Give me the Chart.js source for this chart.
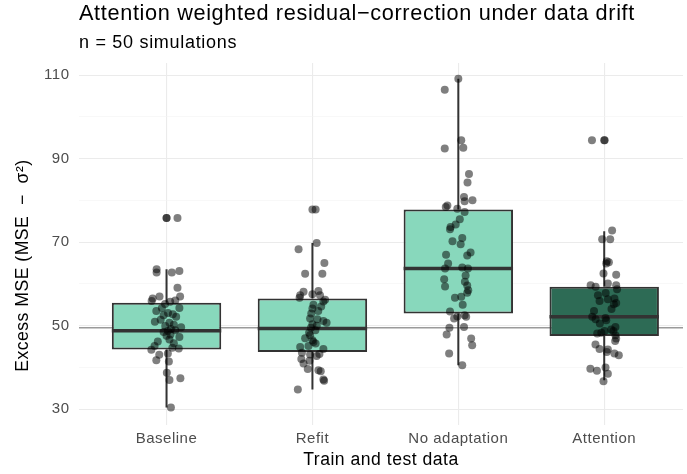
<!DOCTYPE html>
<html>
<head>
<meta charset="utf-8">
<script src="https://cdn.jsdelivr.net/npm/chart.js@4.4.1/dist/chart.umd.min.js"></script>
<style>
  body { margin: 0; background: #fff; overflow: hidden; }
  #wrap { position: relative; width: 687px; height: 474px; }
  #boxChart { position: absolute; left: 0; top: 0; }
  .heading { position: absolute; left: 79px; font-family: "Liberation Sans", Arial, sans-serif; color: #000; white-space: nowrap; line-height: 1; }
</style>
</head>
<body>
<div id="wrap">
  <canvas id="boxChart" width="687" height="474"></canvas>
  <div class="heading" style="top:1.5px;font-size:21.7px;letter-spacing:0.65px">Attention weighted residual−correction under data drift</div>
  <div class="heading" style="top:33px;font-size:18px;letter-spacing:0.7px">n = 50 simulations</div>
</div>
<script>
const categories = ['Baseline', 'Refit', 'No adaptation', 'Attention'];

// box statistics per group
const lowerWhisker = [30.4, 34.7, 40.5, 36.9];
const lowerQuartile = [44.3, 43.7, 52.9, 47.5];
const medians = [48.8, 49.3, 63.7, 52.1];
const upperQuartile = [55.5, 56.5, 77.8, 59.3];
const upperWhisker = [63.5, 69.8, 109.1, 72.6];

const referenceMse = 49.5;
const yTicks = [30, 40, 50, 60, 70, 80, 90, 100, 110];

// excess MSE of each simulation, with its horizontal jitter (category units)
const baselineMse = [75.8, 75.8, 75.8, 63.5, 62.7, 62.7, 63.1, 59.1, 57.0, 57.0, 56.5, 55.9, 55.7, 54.2, 53.5, 54.2, 52.7, 52.1, 50.7, 49.9,
  48.7, 47.9, 47.3, 46.7, 45.1, 44.2, 44.5, 43.0, 43.3, 41.7, 41.4, 38.7, 37.0, 37.4, 30.4,
  48.5, 49.2, 50.2, 51.4, 53.0, 55.2, 47.6, 46.2, 48.9, 50.9, 44.7, 52.5, 49.6, 45.8, 56.0];
const baselineJitter = [0.0, 0.0, 0.075, -0.068, -0.068, 0.036, 0.088, 0.075, 0.093, -0.048, -0.095, -0.102, 0.025, -0.032, -0.07, 0.088, 0.043, 0.066, 0.02, -0.009,
  0.009, 0.027, 0.088, 0.02, -0.082, -0.104, 0.084, -0.05, 0.009, -0.07, 0.016, 0.002, 0.02, 0.095, 0.03,
  -0.02, 0.03, 0.05, -0.04, 0.01, -0.01, 0.0, -0.06, 0.06, -0.08, 0.04, -0.02, 0.1, 0.05, 0.06];

const refitMse = [77.8, 77.8, 69.8, 68.3, 65.0, 62.4, 62.4, 58.1, 57.3, 56.7, 57.5, 58.3, 57.3, 56.2, 55.8, 55.0, 54.1, 52.9, 51.7, 51.5,
  50.7, 51.1, 50.3, 48.3, 47.7, 46.1, 45.7, 44.9, 45.1, 44.4, 43.5, 43.1, 42.7, 43.2, 42.0, 40.9, 41.6, 39.6, 39.3, 39.1,
  37.1, 36.8, 34.7, 49.5, 48.9, 53.5, 47.0, 54.6, 50.0, 46.5];
const refitJitter = [0.0, 0.022, 0.029, -0.095, 0.082, -0.05, 0.068, -0.061, -0.084, -0.088, 0.0, 0.041, 0.052, 0.087, 0.075, 0.007, 0.0, -0.008, -0.016, 0.034,
  0.097, 0.075, 0.0, -0.023, -0.016, 0.007, 0.022, -0.084, -0.027, 0.075, -0.072, -0.016, 0.029, 0.048, -0.076, -0.061, -0.02, -0.032, 0.041, 0.057,
  0.075, 0.08, -0.1, -0.01, 0.02, 0.04, -0.05, 0.06, 0.03, 0.0];

const noAdaptationMse = [109.1, 106.5, 94.4, 92.6, 92.4, 86.3, 84.3, 80.8, 80.0, 79.8, 78.8, 78.4, 78.0, 77.2, 74.2, 73.6, 73.1, 71.0, 69.5, 67.5,
  66.8, 67.0, 64.9, 63.7, 63.9, 63.7, 61.1, 59.4, 60.5, 59.6, 58.5, 57.9, 56.7, 56.9, 53.4, 52.2, 52.5, 52.1, 51.7, 49.7,
  49.5, 47.9, 46.9, 45.3, 43.3, 40.5, 75.5, 70.2, 55.0, 62.0];
const noAdaptationJitter = [0.0, -0.093, 0.02, 0.034, -0.093, 0.073, 0.063, 0.039, 0.097, 0.043, -0.075, -0.086, -0.007, 0.043, -0.018, -0.053, -0.057, 0.027, 0.016, 0.084,
  0.061, -0.084, -0.07, -0.091, 0.027, 0.066, -0.097, -0.091, 0.045, 0.061, 0.068, 0.061, -0.023, 0.02, -0.057, -0.007, 0.043, 0.054, -0.029, 0.039,
  -0.061, -0.08, 0.088, 0.095, -0.063, 0.027, 0.01, -0.04, 0.03, 0.05];

const attentionMse = [94.4, 94.4, 94.4, 72.8, 70.7, 70.7, 65.4, 64.9, 65.2, 62.5, 62.2, 60.1, 59.7, 59.3, 59.7, 58.7, 57.3, 55.9, 56.3, 56.5,
  55.4, 55.1, 53.5, 52.1, 51.5, 51.8, 51.3, 49.7, 48.7, 49.1, 48.7, 48.1, 48.3, 47.7, 46.9, 46.3, 44.4, 44.3, 43.7, 43.3,
  42.9, 39.7, 39.2, 40.0, 38.5, 36.7, 50.5, 54.0, 57.8, 45.5];
const attentionJitter = [-0.084, 0.0, 0.003, 0.054, -0.014, 0.041, 0.018, 0.014, 0.032, -0.005, 0.082, 0.025, -0.093, -0.059, 0.082, 0.088, -0.043, -0.032, 0.025, 0.07,
  0.082, 0.066, -0.07, -0.082, -0.059, 0.009, 0.014, 0.077, 0.063, 0.048, 0.002, -0.048, -0.02, 0.077, 0.082, 0.075, -0.032, 0.025, 0.018, 0.07,
  0.1, -0.095, -0.05, 0.009, 0.025, -0.005, -0.03, 0.05, 0.01, -0.06];

const groupMse = [baselineMse, refitMse, noAdaptationMse, attentionMse];
const groupJitter = [baselineJitter, refitJitter, noAdaptationJitter, attentionJitter];

const boxHalfWidth = 0.375;
const xMin = 0.4, xMax = 4.54;

Chart.defaults.font.family = '"Liberation Sans", Arial, sans-serif';

// slightly looser text tracking on everything the chart writes
const trackingPlugin = {
  id: 'tracking',
  beforeDraw: chart => { chart.ctx.letterSpacing = '0.5px'; }
};

const boxData = categories.map((c, i) => ({ x: i + 1, y: [lowerQuartile[i], upperQuartile[i]] }));

const whiskerData = [];
categories.forEach((c, i) => {
  whiskerData.push({ x: i + 1, y: lowerWhisker[i] }, { x: i + 1, y: lowerQuartile[i] }, { x: i + 1, y: null });
  whiskerData.push({ x: i + 1, y: upperQuartile[i] }, { x: i + 1, y: upperWhisker[i] }, { x: i + 1, y: null });
});

const medianData = [];
categories.forEach((c, i) => {
  medianData.push({ x: i + 1 - boxHalfWidth, y: medians[i] }, { x: i + 1 + boxHalfWidth, y: medians[i] }, { x: i + 1, y: null });
});

const pointData = [];
groupMse.forEach((vals, i) => {
  vals.forEach((v, j) => pointData.push({ x: i + 1 + groupJitter[i][j], y: v }));
});

new Chart(document.getElementById('boxChart'), {
  type: 'bar',
  plugins: [trackingPlugin],
  data: {
    datasets: [
      {
        type: 'scatter',
        data: pointData,
        backgroundColor: 'rgba(0,0,0,0.5)',
        borderWidth: 0,
        pointRadius: 4,
        order: 0
      },
      {
        type: 'line',
        data: medianData,
        borderColor: '#333333',
        borderWidth: 3.5,
        pointRadius: 0,
        order: 1
      },
      {
        type: 'bar',
        data: boxData,
        backgroundColor: ['#88d8bc', '#88d8bc', '#88d8bc', '#2d6b55'],
        borderColor: '#333333',
        borderWidth: 2,
        borderSkipped: false,
        categoryPercentage: 0.75,
        barPercentage: 1,
        order: 2
      },
      {
        type: 'line',
        data: whiskerData,
        borderColor: '#333333',
        borderWidth: 2,
        pointRadius: 0,
        order: 3
      },
      {
        type: 'line',
        data: [{ x: xMin, y: referenceMse }, { x: xMax, y: referenceMse }],
        borderColor: '#9a9a9a',
        borderWidth: 1.5,
        pointRadius: 0,
        order: 4
      }
    ]
  },
  options: {
    responsive: false,
    animation: false,
    layout: { padding: { top: 63, left: 0, right: 0, bottom: 0 } },
    plugins: { legend: { display: false }, tooltip: { enabled: false } },
    scales: {
      x: {
        type: 'linear',
        min: xMin,
        max: xMax,
        offset: false,
        afterBuildTicks: scale => { scale.ticks = categories.map((c, i) => ({ value: i + 1 })); },
        afterFit: scale => { scale.height = 49; },
        ticks: {
          autoSkip: false,
          maxRotation: 0,
          padding: 5,
          color: '#4d4d4d',
          font: { size: 15 },
          callback: v => categories[v - 1]
        },
        grid: { color: '#ebebeb', lineWidth: 1.1, drawTicks: false, offset: false },
        border: { display: false },
        title: {
          display: true,
          text: 'Train and test data',
          color: '#000',
          font: { size: 17.6 },
          padding: { top: 0, bottom: 3 }
        }
      },
      y: {
        type: 'linear',
        min: 26.2,
        max: 112.9,
        beginAtZero: false,
        afterBuildTicks: scale => { scale.ticks = yTicks.map(v => ({ value: v })); },
        afterFit: scale => { scale.width = 79; },
        ticks: {
          padding: 9.5,
          color: '#4d4d4d',
          font: { size: 15 },
          callback: v => (v % 20 === 10 ? v : '')
        },
        grid: {
          color: ctx => (ctx.tick && ctx.tick.value % 20 === 10 ? '#ebebeb' : '#f4f4f4'),
          lineWidth: ctx => (ctx.tick && ctx.tick.value % 20 === 10 ? 1.1 : 0.6),
          drawTicks: false
        },
        border: { display: false },
        title: {
          display: true,
          text: 'Excess MSE (MSE  −  σ²)        ',
          color: '#000',
          font: { size: 17.6 },
          padding: { top: 12.5, bottom: 0 }
        }
      }
    }
  }
});
</script>
</body>
</html>
